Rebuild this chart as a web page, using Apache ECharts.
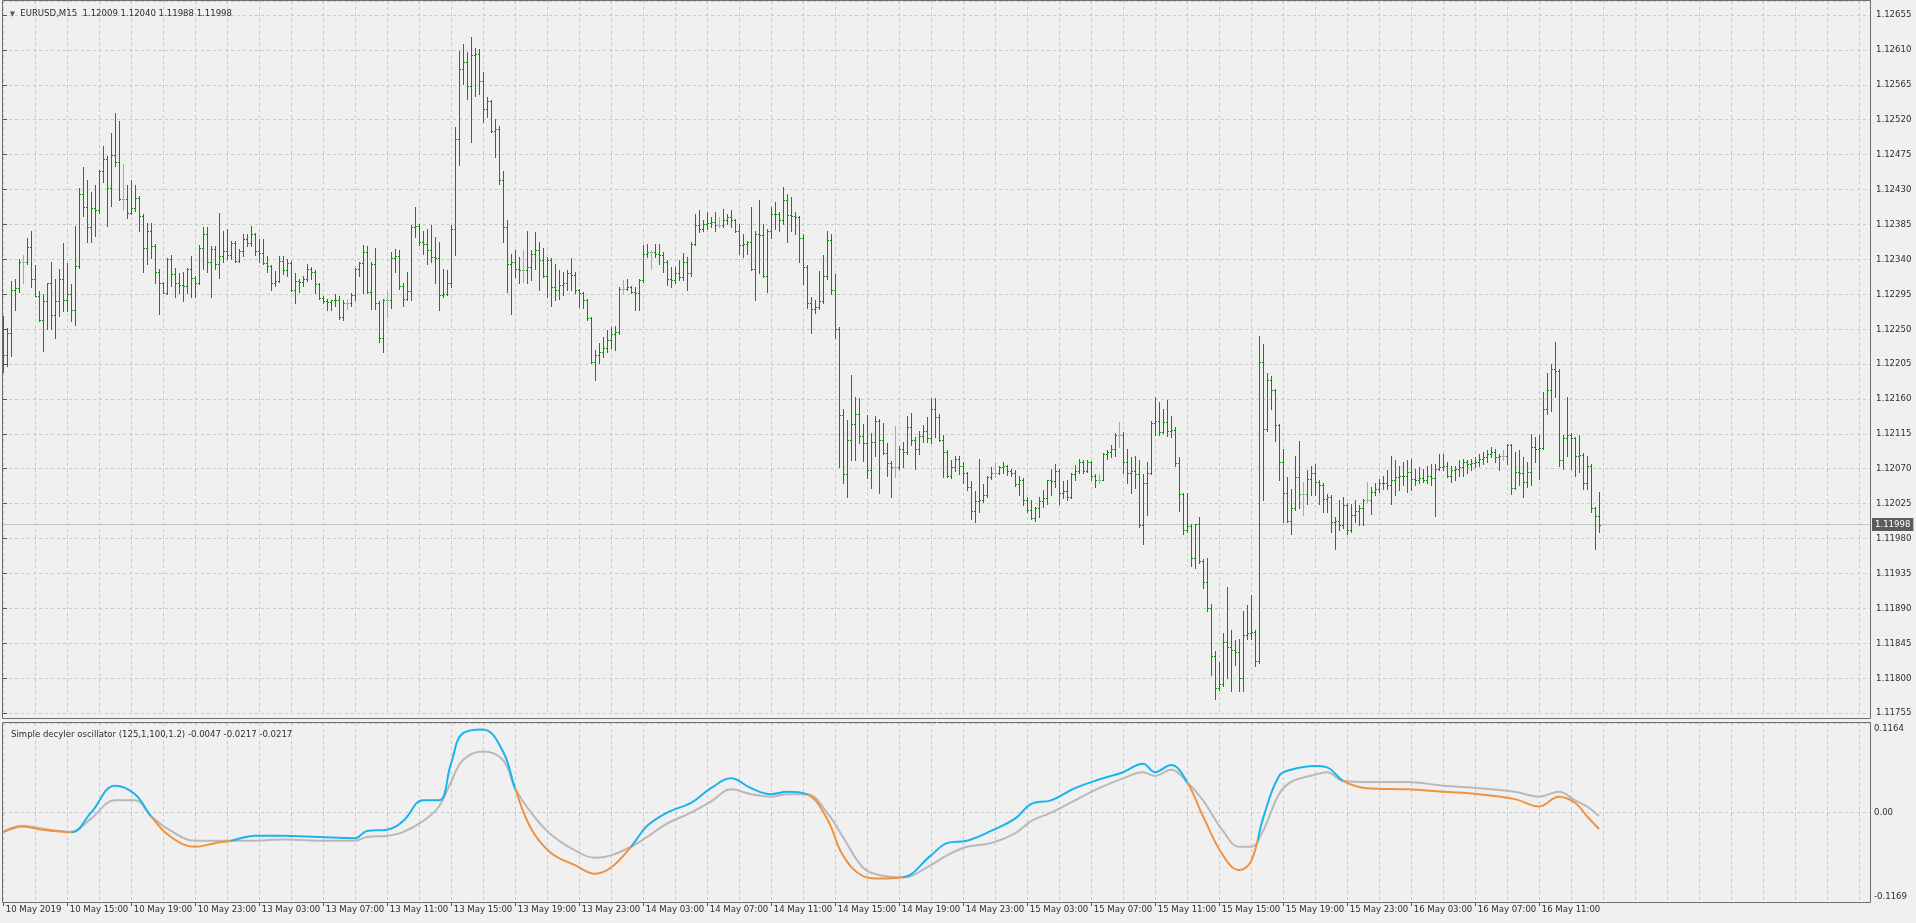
<!DOCTYPE html>
<html>
<head>
<meta charset="utf-8">
<title>EURUSD,M15</title>
<script src="https://cdn.jsdelivr.net/npm/echarts@6/dist/echarts.min.js"></script>
<style>
  html, body { margin: 0; padding: 0; background: #f0f0f0; }
  #chart { width: 1916px; height: 923px; }
</style>
</head>
<body>
<div id="chart"></div>
<script>
// bar prices are kept in points (0.00001) above this base price
const priceBase = 1.12;

const barOpen = [
  250,216,245,301,303,336,336,356,314,293, 262,286,310,268,286,314,288,295,275,331,
  424,408,381,406,404,454,469,432,475,466, 418,418,400,406,419,396,354,376,357,324,
  309,297,340,321,310,307,305,327,316,310, 354,373,336,353,334,344,351,345,361,338,
  351,366,361,372,351,348,335,331,310,312, 338,326,335,301,312,311,314,327,324,308,
  290,286,285,287,288,265,284,284,294,327, 335,349,298,334,284,239,288,288,342,344,
  305,289,299,381,383,362,360,352,343,341, 294,295,310,379,495,585,594,564,604,605,
  570,534,544,506,508,442,382,334,336,328, 326,326,330,347,352,339,319,339,304,300,
  307,309,322,320,300,296,287,264,208,217, 221,225,236,244,246,302,302,304,298,296,
  313,347,349,349,347,345,337,315,313,322, 317,337,322,360,384,379,386,387,388,384,
  384,390,394,390,377,358,360,362,328,373, 371,319,377,399,398,390,416,397,396,394,
  368,330,283,276,278,286,319,365,300,250, 139,63,107,127,141,112,103,68,105,131,
  107,90,77,72,72,95,92,124,107,95, 112,118,109,147,136,107,92,60,72,83,
  74,64,46,15,28,29,36,59,65,65, 72,73,67,64,50,56,29,17,6,19,
  28,32,55,54,67,39,41,34,63,67, 78,67,78,61,56,56,89,92,95,114,
  114,78,65,67,63,-3,51,65,129,131, 117,130,118,120,77,37,-9,-4,-45,-1,
  -49,-76,-110,-172,-213,-208,-153,-160,-164,-166, -200,-144,-142,-140,-178,207,121,184,171,126,
  78,39,2,19,59,37,37,57,65,53, 49,31,34,1,2,-3,23,-9,10,16,
  19,29,29,40,44,52,51,49,55,59, 60,61,66,57,55,58,56,61,58,70,
  72,73,61,68,70,72,79,76,77,79, 83,85,89,91,85,87,87,100,45,66,
  64,53,66,98,96,97,147,171,199,196, 81,109,113,109,87,88,51,74,19,9
];
const barHigh = [
  267,251,312,314,340,346,367,376,333,299, 295,310,336,314,327,361,335,308,383,432,
  459,442,427,436,455,486,473,503,528,518, 463,436,442,436,422,399,387,387,360,327,
  311,342,346,329,322,323,329,344,318,359, 382,382,357,357,400,376,379,364,363,353,
  372,372,383,374,366,366,344,333,325,344, 344,340,338,322,315,319,334,330,326,310,
  293,289,288,295,293,288,289,297,329,336, 359,357,336,355,286,289,299,349,353,352,
  309,324,384,408,386,377,379,384,369,362, 328,326,384,510,609,617,607,626,613,611,
  581,549,546,521,512,454,390,347,352,343, 352,377,352,375,362,354,343,341,334,326,
  324,326,341,323,302,298,289,266,223,232, 240,249,253,254,304,313,315,306,304,315,
  358,360,352,360,360,349,339,330,330,339, 348,343,362,399,403,390,401,394,401,394,
  405,399,403,392,386,373,364,407,377,416, 386,379,407,414,401,433,424,420,401,396,
  372,332,292,288,325,345,377,372,321,253, 147,133,191,162,161,127,139,116,138,134,
  129,103,80,125,99,105,138,142,111,119, 126,136,161,161,140,114,94,81,87,87,
  78,66,54,41,83,50,61,72,78,74, 78,75,70,68,61,58,33,30,21,34,
  42,56,70,76,69,54,56,65,75,83, 81,81,80,63,63,90,94,100,116,130,
  117,96,85,87,81,63,78,131,162,156, 147,158,138,124,85,39,39,-1,-1,8,
  -46,-45,-105,-165,-179,-142,-82,-138,-151,-149, -114,-106,-93,-138,241,231,194,190,173,128,
  96,59,44,87,106,53,68,74,76,55, 51,38,36,8,29,34,26,25,29,23,
  31,53,46,51,57,61,68,87,81,74, 79,81,83,70,72,70,74,76,76,89,
  89,79,74,74,81,83,81,83,85,89, 91,94,98,96,89,94,102,102,91,94,
  85,79,115,111,113,169,194,205,233,198, 113,162,116,111,113,90,87,76,21,40
];
const barLow = [
  195,203,215,275,298,310,334,304,293,261, 222,250,250,238,267,273,273,261,255,329,
  396,362,362,370,400,439,383,409,460,417, 403,393,398,402,376,324,334,342,310,270,
  296,295,306,291,297,286,297,291,291,308, 327,324,292,327,316,336,340,340,336,336,
  344,357,357,345,336,334,324,301,306,311, 321,319,299,283,298,305,312,315,297,289,
  283,274,275,280,263,262,276,280,288,319, 297,297,276,276,233,221,265,277,323,302,
  280,287,288,369,358,347,334,337,309,275, 292,294,304,345,461,566,547,491,551,553,
  517,523,504,472,437,362,298,270,317,309, 311,309,313,328,300,317,292,280,287,289,
  294,300,300,296,279,277,262,206,184,206, 214,221,225,223,244,297,300,296,274,274,
  311,343,328,343,334,324,307,304,309,313, 313,300,319,358,375,377,379,382,377,382,
  382,386,382,375,347,343,347,326,287,322, 317,298,367,379,377,386,362,377,373,337,
  308,277,245,271,276,284,315,295,238,72, 51,33,81,81,103,80,58,45,87,39,
  89,61,34,59,70,72,89,100,70,89, 105,105,103,111,106,59,59,58,67,63,
  52,43,5,1,14,27,34,57,61,63, 65,62,61,48,36,23,14,5,3,8,
  21,25,36,47,25,32,30,32,56,65, 64,66,56,47,52,55,83,85,86,98,
  65,52,39,45,-5,-27,10,63,114,114, 116,112,111,74,15,-14,-12,-56,-58,-52,
  -84,-114,-196,-227,-215,-210,-200,-216,-183,-217, -217,-149,-149,-184,-180,29,119,147,106,55,
  1,1,-14,17,19,10,25,36,36,25, 14,14,-11,-33,-9,-7,-14,-11,1,-3,
  -3,27,12,36,40,44,44,25,36,42, 49,40,42,49,51,53,51,49,9,68,
  68,59,53,55,61,61,64,68,72,74, 76,79,85,79,68,81,76,38,44,49,
  34,46,49,79,57,96,141,145,162,74, 70,87,70,61,66,44,44,14,-33,-12
];
const barClose = [
  216,245,301,303,336,336,356,314,293,262, 286,310,268,286,314,288,295,275,331,424,
  408,381,406,404,454,469,432,475,466,418, 418,400,406,419,396,354,376,357,324,309,
  297,340,321,310,307,305,327,316,310,354, 373,336,353,334,344,351,345,361,338,351,
  366,361,372,351,348,335,331,310,312,338, 326,335,301,312,311,314,327,324,308,290,
  286,285,287,288,265,284,284,294,327,335, 349,298,334,284,239,288,288,342,344,305,
  289,299,381,383,362,360,352,343,341,294, 295,310,379,495,585,594,564,604,605,570,
  534,544,506,508,442,382,334,336,328,326, 326,330,347,352,339,319,339,304,300,307,
  309,322,320,300,296,287,264,208,217,221, 225,236,244,246,302,302,304,298,296,313,
  347,349,349,347,345,337,315,313,322,317, 337,322,360,384,379,386,387,388,384,384,
  390,394,390,377,358,360,362,328,373,371, 319,377,399,398,390,416,397,396,394,368,
  330,283,276,278,286,319,365,300,250,139, 63,107,127,141,112,103,68,105,131,107,
  90,77,72,72,95,92,124,107,95,112, 118,109,147,136,107,92,60,72,83,74,
  64,46,15,28,29,36,59,65,65,72, 73,67,64,50,56,29,17,6,19,28,
  32,55,54,67,39,41,34,63,67,78, 67,78,61,56,56,89,92,95,114,114,
  78,65,67,63,-3,51,65,129,131,117, 130,118,120,77,37,-9,-4,-45,-1,-49,
  -76,-110,-172,-213,-208,-153,-160,-164,-166,-200, -144,-142,-140,-178,207,121,184,171,126,78,
  39,2,19,59,37,37,57,65,53,49, 31,34,1,2,-3,23,-9,10,16,19,
  29,29,40,44,52,51,49,55,59,60, 61,66,57,55,58,56,61,58,70,72,
  73,61,68,70,72,79,76,77,79,83, 85,89,91,85,87,87,100,45,66,64,
  53,66,98,96,97,147,171,199,196,81, 109,113,109,87,88,51,74,19,9,-2
];

// time labels, one every 16 bars (4 hours of M15)
const xLabels = [
  '10 May 2019', '10 May 15:00', '10 May 19:00', '10 May 23:00', '13 May 03:00',
  '13 May 07:00', '13 May 11:00', '13 May 15:00', '13 May 19:00', '13 May 23:00',
  '14 May 03:00', '14 May 07:00', '14 May 11:00', '14 May 15:00', '14 May 19:00',
  '14 May 23:00', '15 May 03:00', '15 May 07:00', '15 May 11:00', '15 May 15:00',
  '15 May 19:00', '15 May 23:00', '16 May 03:00', '16 May 07:00', '16 May 11:00'
];

// oscillator readings (bar index, value)
const oscIdx = [
  0,5,10,17,22,28,33,37,42,48, 53,57,63,70,79,88,91,96,100,105,
  109,112,115,120,125,128,132,137,143,148, 152,157,161,166,172,177,182,187,192,196,
  201,206,210,215,219,225,232,236,241,247, 253,257,262,268,274,280,285,288,292,296,
  300,305,309,312,315,319,322,328,331,335, 341,351,360,369,378,384,389,393,396,399
];
const oscMain = [
  -0.0262,-0.0185,-0.0230,-0.0259,-0.0004,0.0347,0.0236,-0.0051,-0.0322,-0.0449,
  -0.0402,-0.0370,-0.0306,-0.0306,-0.0322,-0.0338,-0.0243,-0.0227,-0.0115,0.0156,
  0.0156,0.0634,0.1032,0.1080,0.0793,0.0315,-0.0211,-0.0529,-0.0688,-0.0800,
  -0.0720,-0.0449,-0.0179,-0.0004,0.0124,0.0315,0.0443,0.0315,0.0236,0.0267,
  0.0236,-0.0083,-0.0561,-0.0831,-0.0863,-0.0847,-0.0561,-0.0402,-0.0370,-0.0243,
  -0.0083,0.0108,0.0156,0.0315,0.0427,0.0522,0.0634,0.0522,0.0618,0.0395,
  -0.0051,-0.0561,-0.0752,-0.0640,-0.0083,0.0474,0.0554,0.0602,0.0586,0.0411,
  0.0315,0.0299,0.0267,0.0236,0.0172,0.0076,0.0204,0.0124,-0.0051,-0.0217
];
const oscSignal = [
  -0.0250,-0.0175,-0.0215,-0.0255,-0.0083,0.0156,0.0156,-0.0051,-0.0243,-0.0370,
  -0.0370,-0.0370,-0.0370,-0.0354,-0.0370,-0.0370,-0.0322,-0.0306,-0.0259,-0.0115,
  0.0076,0.0395,0.0682,0.0793,0.0682,0.0315,-0.0004,-0.0290,-0.0497,-0.0593,
  -0.0561,-0.0449,-0.0322,-0.0147,-0.0004,0.0140,0.0299,0.0236,0.0204,0.0236,
  0.0236,-0.0004,-0.0322,-0.0720,-0.0816,-0.0847,-0.0688,-0.0561,-0.0449,-0.0402,
  -0.0274,-0.0115,-0.0004,0.0156,0.0315,0.0443,0.0522,0.0474,0.0554,0.0395,
  0.0156,-0.0243,-0.0449,-0.0449,-0.0243,0.0236,0.0395,0.0490,0.0522,0.0411,
  0.0395,0.0395,0.0347,0.0315,0.0267,0.0204,0.0267,0.0156,0.0076,-0.0047
];

const FONT = '"DejaVu Sans Condensed", "DejaVu Sans", sans-serif';
const TEXT = '#2e2e2e';
const GRIDLINE = '#c9c9c9';
const FRAME = '#6e6e6e';
const BAR_GREEN = '#0b8a0b';
const BAR_DOJI = '#a9a9a9';
const CYAN = '#19b4ec';
const ORANGE = '#f0923e';
const SILVER = '#b9b9b9';
const X_MAX = 466.75;

const px = p => +(priceBase + p / 100000).toFixed(5);
const bars = barOpen.map((o, i) => [i, px(o), px(barHigh[i]), px(barLow[i]), px(barClose[i])]);
const last = bars[bars.length - 1];
const lastPrice = last[4];

const header = 'EURUSD,M15  ' + [last[1], last[2], last[3], last[4]].map(v => v.toFixed(5)).join(' ');
const n = oscIdx.length - 1;
const oscHeader = 'Simple decyler oscillator (125,1,100,1.2) ' +
  [oscSignal[n], oscMain[n], oscMain[n]].map(v => v.toFixed(4)).join(' ');

// colour pieces for the main oscillator line: cyan above the silver line, orange below
const pieces = [];
let start = -1;
let up = oscMain[0] >= oscSignal[0];
for (let k = 1; k < oscIdx.length; k++) {
  const nowUp = oscMain[k] >= oscSignal[k];
  if (nowUp !== up) {
    const d0 = oscMain[k - 1] - oscSignal[k - 1];
    const d1 = oscMain[k] - oscSignal[k];
    const cross = oscIdx[k - 1] + (d0 / (d0 - d1)) * (oscIdx[k] - oscIdx[k - 1]);
    pieces.push({ gte: start, lt: cross, color: up ? CYAN : ORANGE });
    start = cross;
    up = nowUp;
  }
}
pieces.push({ gte: start, lte: X_MAX, color: up ? CYAN : ORANGE });

function renderBar(params, api) {
  const i = api.value(0);
  const o = api.coord([i, api.value(1)]);
  const h = api.coord([i, api.value(2)]);
  const l = api.coord([i, api.value(3)]);
  const c = api.coord([i, api.value(4)]);
  const x = Math.round(h[0]) + 0.5;
  const yo = Math.round(o[1]) + 0.5;
  const yc = Math.round(c[1]) + 0.5;
  const color = api.value(1) === api.value(4) ? BAR_DOJI : BAR_GREEN;
  const st = { stroke: color, lineWidth: 1 };
  return {
    type: 'group',
    children: [
      { type: 'line', shape: { x1: x, y1: Math.round(h[1]), x2: x, y2: Math.round(l[1]) + 1 }, style: st },
      { type: 'line', shape: { x1: x - 1.5, y1: yo, x2: x - 0.5, y2: yo }, style: st },
      { type: 'line', shape: { x1: x + 0.5, y1: yc, x2: x + 1.5, y2: yc }, style: st }
    ]
  };
}

const dashed = { show: true, lineStyle: { color: GRIDLINE, type: [3, 3], width: 1 } };
const labelTicks = xLabels.map((_, k) => k * 16);

const chart = echarts.init(document.getElementById('chart'));
chart.setOption({
  animation: false,
  backgroundColor: '#f0f0f0',
  textStyle: { fontFamily: FONT },
  title: [
    {
      text: '{tri|▼}  ' + header,
      left: 5, top: 4,
      textStyle: {
        fontFamily: FONT, fontSize: 9.5, fontWeight: 'normal', color: TEXT,
        rich: { tri: { fontSize: 7, color: '#555', fontFamily: FONT } }
      }
    },
    {
      text: oscHeader,
      left: 6, top: 725,
      textStyle: { fontFamily: FONT, fontSize: 9.5, fontWeight: 'normal', color: TEXT }
    }
  ],
  grid: [
    { left: 3, top: 1, width: 1867, height: 712 },
    { left: 3, top: 723, width: 1867, height: 179 }
  ],
  xAxis: [
    {
      type: 'value', gridIndex: 0, min: 0, max: X_MAX, interval: 8,
      axisLine: { show: false }, axisTick: { show: false }, axisLabel: { show: false },
      splitLine: dashed
    },
    {
      type: 'value', gridIndex: 1, min: 0, max: X_MAX, interval: 8,
      axisLine: { show: false }, axisTick: { show: false }, axisLabel: { show: false },
      splitLine: dashed
    },
    {
      type: 'value', gridIndex: 1, min: 0, max: X_MAX, position: 'bottom',
      axisLine: { show: false },
      splitLine: { show: false },
      axisTick: { show: true, customValues: labelTicks, length: 4, lineStyle: { color: '#555' } },
      axisLabel: {
        show: true, customValues: labelTicks, align: 'left', margin: 3,
        fontFamily: FONT, fontSize: 9.5, color: TEXT,
        formatter: v => ' ' + (xLabels[Math.round(v / 16)] || '')
      }
    }
  ],
  yAxis: [
    {
      type: 'value', gridIndex: 0, position: 'right',
      min: 1.11755, max: 1.12673, interval: 0.00045,
      axisLine: { show: false },
      axisTick: { show: true, length: 4, lineStyle: { color: '#555' } },
      axisLabel: {
        showMaxLabel: false, margin: 6, fontFamily: FONT, fontSize: 9.5, color: TEXT,
        formatter: v => v.toFixed(5)
      },
      splitLine: dashed
    },
    {
      type: 'value', gridIndex: 1, position: 'right',
      min: -0.1169, max: 0.1164, interval: 0.1169,
      axisLine: { show: false },
      axisTick: { show: false },
      axisLabel: {
        margin: 4, fontFamily: FONT, fontSize: 9.5, color: TEXT,
        formatter: v => {
          if (Math.abs(v) < 1e-9) return '0.00';
          return v > 0 ? '{top|' + v.toFixed(4) + '}' : '{bot|' + v.toFixed(4) + '}';
        },
        rich: {
          top: { padding: [11, 0, 0, 0], fontFamily: FONT, fontSize: 9.5, color: TEXT },
          bot: { padding: [0, 0, 11, 0], fontFamily: FONT, fontSize: 9.5, color: TEXT }
        }
      },
      splitLine: dashed
    }
  ],
  visualMap: [{
    type: 'piecewise', show: false, dimension: 0, seriesIndex: 3, pieces: pieces
  }],
  series: [
    {
      name: 'EURUSD', type: 'custom', xAxisIndex: 0, yAxisIndex: 0,
      renderItem: renderBar,
      encode: { x: 0, y: [1, 2, 3, 4] },
      data: bars, z: 5
    },
    {
      name: 'Bid', type: 'line', xAxisIndex: 0, yAxisIndex: 0,
      data: [[0, lastPrice], [X_MAX, lastPrice]],
      showSymbol: false, silent: true, z: 3,
      lineStyle: { color: '#c6c6c6', width: 1 },
      endLabel: {
        show: true, distance: 2,
        formatter: () => lastPrice.toFixed(5),
        backgroundColor: '#5b5b5b', color: '#ffffff',
        padding: [2, 3, 1, 3], fontFamily: FONT, fontSize: 9.5
      }
    },
    {
      name: 'signal', type: 'line', xAxisIndex: 1, yAxisIndex: 1,
      data: oscIdx.map((x, k) => [x, oscSignal[k]]),
      smooth: 0.4, showSymbol: false, z: 3,
      lineStyle: { color: SILVER, width: 2 }
    },
    {
      name: 'decycler', type: 'line', xAxisIndex: 1, yAxisIndex: 1,
      data: oscIdx.map((x, k) => [x, oscMain[k]]),
      smooth: 0.4, showSymbol: false, z: 4,
      lineStyle: { width: 2 }
    }
  ],
  graphic: [
    { type: 'rect', silent: true, z: 100, shape: { x: 2.5, y: 0.5, width: 1868, height: 718 },
      style: { fill: 'none', stroke: FRAME, lineWidth: 1 } },
    { type: 'rect', silent: true, z: 100, shape: { x: 2.5, y: 722.5, width: 1868, height: 180 },
      style: { fill: 'none', stroke: FRAME, lineWidth: 1 } }
  ]
});
</script>
</body>
</html>
